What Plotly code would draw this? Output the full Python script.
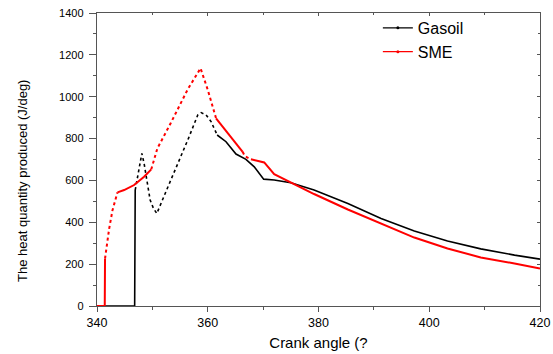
import plotly.graph_objects as go

# ---- data ----
crank_gasoil = [340, 346.8, 346.9, 347.4, 347.8, 348.1, 348.5, 349.2, 349.6, 350.2, 350.8,
                352.6, 354.6, 356.5, 358.2, 358.8, 359.7, 360.6, 361.7, 363.3, 365.1,
                366.9, 368.4, 370.1, 372.0, 375.0, 379.2, 385.3, 391.3, 397.3, 403.3,
                409.3, 415.4, 420]
heat_gasoil = [0, 0, 554, 630, 700, 729, 682, 570, 506, 466, 442,
               556, 680, 800, 913, 924, 913, 881, 817, 785, 726,
               701, 665, 606, 602, 589, 554, 490, 418, 358, 311,
               273, 243, 224]

crank_sme = [340, 341.4, 341.45, 342.2, 342.8, 343.7, 344.9, 346.7, 348.5, 349.8,
             350.9, 353.3, 356.4, 358.7, 360.0, 361.5, 363.6, 366.3, 366.7, 367.8,
             370.2, 372.0, 375.0, 379.2, 385.3, 391.3, 397.3, 403.3, 409.3, 415.4, 420]
heat_sme = [0, 0, 227, 370, 458, 543, 554, 578, 618, 653,
            753, 873, 1036, 1136, 1033, 897, 825, 737, 716, 701,
            686, 630, 589, 535, 461, 394, 327, 275, 232, 203, 179]

series_names = ["Gasoil", "SME"]
x_ticks = [340, 360, 380, 400, 420]
y_ticks = [0, 200, 400, 600, 800, 1000, 1200, 1400]

# segment styling: (start index, end index, dash)
gasoil_segments = [(0, 2, "solid"), (2, 18, "dot"), (18, len(crank_gasoil) - 1, "solid")]
sme_segments = [(0, 2, "solid"), (2, 5, "dot"), (5, 9, "solid"), (9, 15, "dot"),
                (15, 17, "solid"), (17, 19, "dot"), (19, len(crank_sme) - 1, "solid")]

fig = go.Figure()


def add_series(xs, ys, segments, color, width, name):
    for (a, b, dash) in segments:
        fig.add_trace(go.Scatter(
            x=xs[a:b + 1], y=ys[a:b + 1], mode="lines",
            line=dict(color=color, width=width, dash=dash),
            showlegend=False, hoverinfo="skip"))
    # legend entry (line with a point in the middle)
    fig.add_trace(go.Scatter(
        x=[None], y=[None], mode="lines+markers", name=name,
        line=dict(color=color, width=1.3),
        marker=dict(color=color, size=3)))


add_series(crank_gasoil, heat_gasoil, gasoil_segments, "black", 1.6, series_names[0])
add_series(crank_sme, heat_sme, sme_segments, "#ff0000", 2.0, series_names[1])

# invisible trace on mirror axes so top/right axes render
fig.add_trace(go.Scatter(x=[None], y=[None], xaxis="x2", yaxis="y2",
                         showlegend=False, hoverinfo="skip"))

axis_color = "#555555"
font_family = "Liberation Sans, Arial, sans-serif"

fig.update_layout(
    width=553, height=354,
    margin=dict(l=97, r=13, t=13, b=48, autoexpand=False),
    paper_bgcolor="white", plot_bgcolor="white",
    font=dict(family=font_family, color="black"),
    showlegend=True,
    legend=dict(x=0.634, y=1.007, xanchor="left", yanchor="top",
                bgcolor="rgba(0,0,0,0)", font=dict(size=16, color="black"),
                tracegroupgap=0),
    xaxis=dict(range=[340, 420], tickvals=x_ticks, ticks="outside", ticklen=5,
               tickwidth=1.2, tickcolor=axis_color, automargin=False,
               ticklabeloverflow="allow",
               minor=dict(dtick=10, ticks="outside", ticklen=3, tickcolor=axis_color),
               showline=True, linecolor=axis_color, linewidth=1.4,
               showgrid=False, zeroline=False,
               tickfont=dict(size=12.5, color="black"),
               title=dict(text="Crank angle (?", font=dict(size=15, color="black"),
                          standoff=8)),
    yaxis=dict(range=[0, 1400], tickvals=y_ticks, ticks="outside", ticklen=7,
               tickwidth=1.2, tickcolor=axis_color, automargin=False,
               ticklabeloverflow="allow",
               minor=dict(dtick=100, ticks="outside", ticklen=3, tickcolor=axis_color),
               showline=True, linecolor=axis_color, linewidth=1.4,
               showgrid=False, zeroline=False, ticklabelstandoff=3,
               tickfont=dict(size=11, color="black")),
    xaxis2=dict(range=[340, 420], overlaying="x", side="top", anchor="y2",
                automargin=False,
                tickvals=x_ticks, ticks="inside", ticklen=3, tickcolor=axis_color,
                minor=dict(dtick=10, ticks="inside", ticklen=2, tickcolor=axis_color),
                showline=True, linecolor=axis_color, linewidth=1.4,
                showticklabels=False, showgrid=False, zeroline=False),
    yaxis2=dict(range=[0, 1400], overlaying="y", side="right", anchor="x2",
                automargin=False,
                tickvals=y_ticks, ticks="inside", ticklen=3, tickcolor=axis_color,
                minor=dict(dtick=100, ticks="inside", ticklen=2, tickcolor=axis_color),
                showline=True, linecolor=axis_color, linewidth=1.4,
                showticklabels=False, showgrid=False, zeroline=False),
    annotations=[dict(text="The heat quantity produced (J/deg)", textangle=-90,
                      xref="paper", yref="paper", x=-0.167, y=0.427,
                      xanchor="center", yanchor="middle", showarrow=False,
                      font=dict(size=13, color="black"))],
)

# remove the browser's default page margin so the 553x354 figure fills the window
fig.write_html("out.html",
               config={"displayModeBar": False},
               post_script="document.body.style.margin='0';document.body.style.overflow='hidden';")
